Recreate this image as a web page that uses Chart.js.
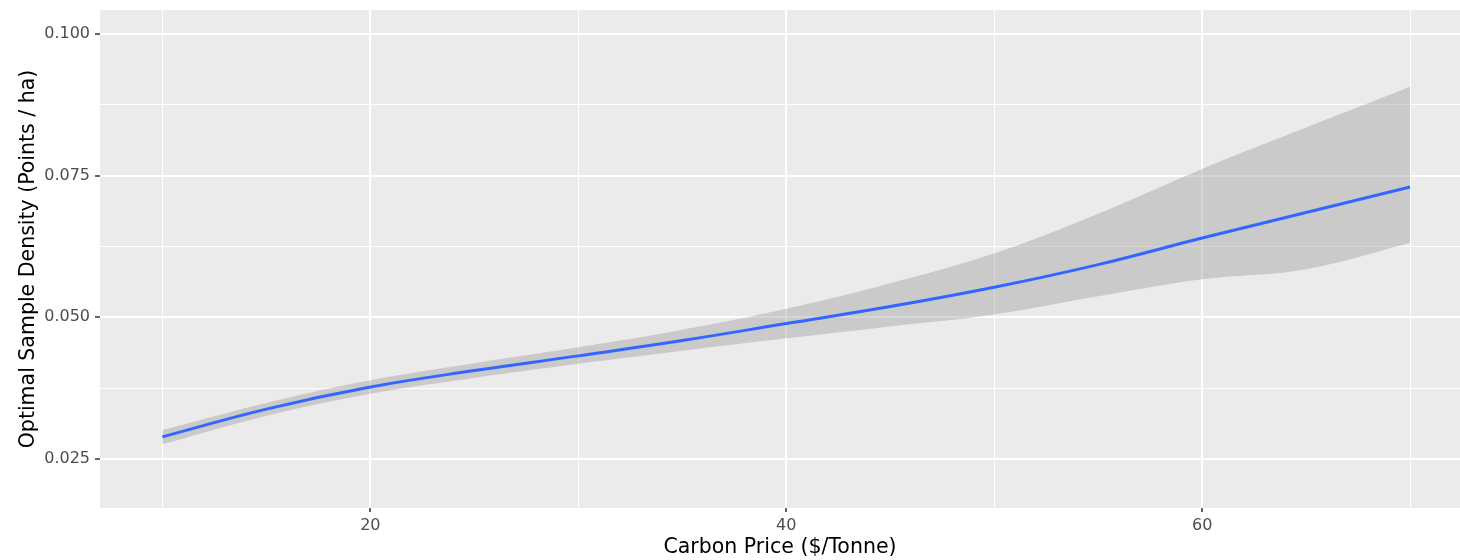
<!DOCTYPE html>
<html>
<head>
<meta charset="utf-8">
<script src="https://cdn.jsdelivr.net/npm/chart.js@4/dist/chart.umd.min.js"></script>
<style>
  html, body { margin: 0; padding: 0; background: #fff; }
  #wrap { width: 1460px; height: 560px; }
</style>
</head>
<body>
<div id="wrap"><canvas id="grafico"></canvas></div>
<script>
// Datos
const precios = [10, 15, 20, 25, 30, 35, 40, 45, 50, 55, 60, 65, 70];
const densidad = [0.0289, 0.0338, 0.0377, 0.0406, 0.0432, 0.0459, 0.0489, 0.0519, 0.0553, 0.0593, 0.0640, 0.0685, 0.0730];
const bandaSup = [0.0301, 0.0349, 0.0389, 0.0419, 0.0447, 0.0478, 0.0515, 0.0560, 0.0613, 0.0683, 0.0762, 0.0835, 0.0907];
const bandaInf = [0.0276, 0.0326, 0.0365, 0.0393, 0.0418, 0.0441, 0.0463, 0.0484, 0.0505, 0.0537, 0.0567, 0.0585, 0.0631];
const ticksX = [10, 20, 30, 40, 50, 60, 70];
const ticksY = [0.025, 0.0375, 0.05, 0.0625, 0.075, 0.0875, 0.1];

const esMayorX = v => v % 20 === 0;
const esMayorY = v => Math.abs(v * 40 - Math.round(v * 40)) < 1e-6;

const puntos = arr => precios.map((x, i) => ({ x: x, y: arr[i] }));

// Fondo gris del panel (estilo ggplot)
const fondoPanel = {
    id: 'fondoPanel',
    beforeDraw(chart) {
        const { ctx, chartArea: a } = chart;
        ctx.save();
        ctx.fillStyle = '#EBEBEB';
        ctx.fillRect(a.left, a.top, a.right - a.left, a.bottom - a.top);
        ctx.restore();
    }
};

const ctx = document.getElementById('grafico').getContext('2d');
new Chart(ctx, {
    type: 'line',
    data: {
        datasets: [
            {
                label: 'superior',
                data: puntos(bandaSup),
                borderWidth: 0,
                pointRadius: 0,
                backgroundColor: 'rgba(153, 153, 153, 0.4)',
                fill: '+1',
                tension: 0.4,
                order: 2
            },
            {
                label: 'inferior',
                data: puntos(bandaInf),
                borderWidth: 0,
                pointRadius: 0,
                fill: false,
                tension: 0.4,
                order: 2
            },
            {
                label: 'densidad',
                data: puntos(densidad),
                borderColor: '#3366FF',
                borderWidth: 3,
                pointRadius: 0,
                fill: false,
                tension: 0.4,
                order: 0
            }
        ]
    },
    options: {
        responsive: true,
        maintainAspectRatio: false,
        animation: false,
        layout: { padding: { top: 10, left: 0, right: 0, bottom: 0 } },
        plugins: {
            legend: { display: false },
            tooltip: { enabled: false }
        },
        scales: {
            x: {
                type: 'linear',
                min: 7,
                max: 72.4,
                afterBuildTicks: s => { s.ticks = ticksX.map(v => ({ value: v })); },
                afterFit: s => { s.height = 52; s.paddingLeft = 0; s.paddingRight = 0; },
                border: { display: false },
                grid: {
                    color: '#FFFFFF',
                    lineWidth: c => esMayorX(c.tick.value) ? 2 : 1,
                    tickColor: c => esMayorX(c.tick.value) ? '#333333' : 'rgba(0,0,0,0)',
                    tickLength: 4,
                    tickWidth: 1.5
                },
                ticks: {
                    autoSkip: false,
                    maxRotation: 0,
                    padding: 4,
                    color: '#4D4D4D',
                    font: { family: 'DejaVu Sans', size: 16 },
                    callback: v => esMayorX(v) ? String(v) : ''
                },
                title: {
                    display: true,
                    text: 'Carbon Price ($/Tonne)',
                    color: '#000000',
                    font: { family: 'DejaVu Sans', size: 20.5 },
                    padding: { top: 0, bottom: 0 }
                }
            },
            y: {
                type: 'linear',
                min: 0.01635,
                max: 0.10424,
                afterBuildTicks: s => { s.ticks = ticksY.map(v => ({ value: v })); },
                afterFit: s => { s.width = 100; s.paddingTop = 0; s.paddingBottom = 0; },
                border: { display: false },
                grid: {
                    color: '#FFFFFF',
                    lineWidth: c => esMayorY(c.tick.value) ? 2 : 1,
                    tickColor: c => esMayorY(c.tick.value) ? '#333333' : 'rgba(0,0,0,0)',
                    tickLength: 5,
                    tickWidth: 1.5
                },
                ticks: {
                    autoSkip: false,
                    padding: 5,
                    color: '#4D4D4D',
                    font: { family: 'DejaVu Sans', size: 16 },
                    callback: v => esMayorY(v) ? v.toFixed(3) : ''
                },
                title: {
                    display: true,
                    text: 'Optimal Sample Density (Points / ha)',
                    color: '#000000',
                    font: { family: 'DejaVu Sans', size: 20.5 },
                    padding: { top: 16, bottom: 0 }
                }
            }
        }
    },
    plugins: [fondoPanel]
});
</script>
</body>
</html>
